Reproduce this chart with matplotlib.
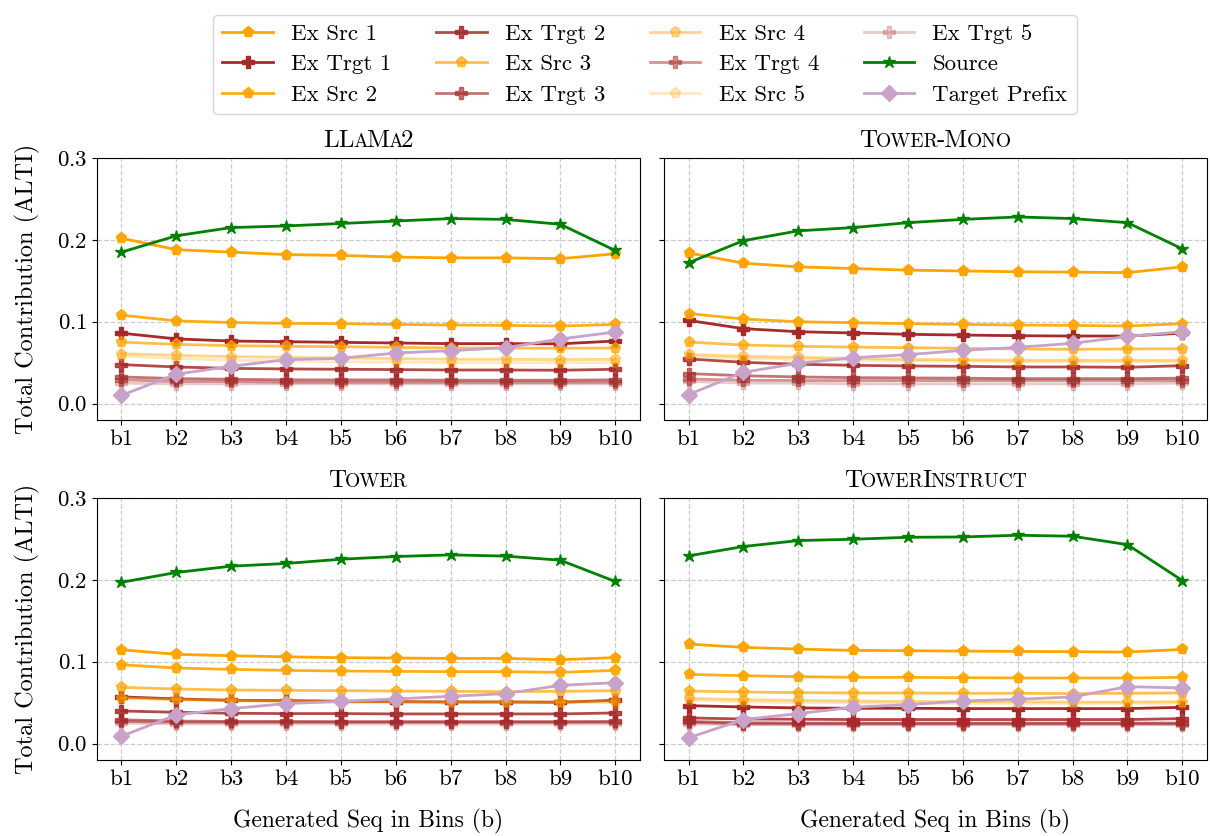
import numpy as np
import matplotlib
matplotlib.use('Agg')
import matplotlib.pyplot as plt
from matplotlib.offsetbox import TextArea, HPacker, AnchoredOffsetbox

plt.rcParams['font.family'] = 'serif'
plt.rcParams['font.serif'] = ['cmr10', 'DejaVu Serif']
plt.rcParams['mathtext.fontset'] = 'cm'
plt.rcParams['axes.formatter.use_mathtext'] = True
plt.rcParams['axes.unicode_minus'] = False

FS = 16.5

bins = ['b1', 'b2', 'b3', 'b4', 'b5', 'b6', 'b7', 'b8', 'b9', 'b10']

# --- LLaMa2 ---
llama_source = [0.185, 0.205, 0.215, 0.217, 0.220, 0.223, 0.226, 0.225, 0.219, 0.187]
llama_src1 = [0.202, 0.188, 0.185, 0.182, 0.181, 0.179, 0.178, 0.178, 0.177, 0.183]
llama_src2 = [0.108, 0.101, 0.099, 0.098, 0.0976, 0.0967, 0.096, 0.0955, 0.0947, 0.0967]
llama_src3 = [0.075, 0.0724, 0.0707, 0.0699, 0.0695, 0.0687, 0.0679, 0.0679, 0.0675, 0.0679]
llama_src4 = [0.061, 0.059, 0.0573, 0.0565, 0.0557, 0.055, 0.054, 0.054, 0.0537, 0.054]
llama_src5 = [0.058, 0.055, 0.053, 0.052, 0.051, 0.051, 0.050, 0.050, 0.050, 0.050]
llama_trg1 = [0.086, 0.079, 0.0764, 0.0756, 0.0748, 0.074, 0.0732, 0.0732, 0.073, 0.0764]
llama_trg2 = [0.0476, 0.0447, 0.043, 0.0423, 0.0419, 0.0415, 0.041, 0.041, 0.0407, 0.0419]
llama_trg3 = [0.0325, 0.0305, 0.0297, 0.029, 0.0289, 0.0289, 0.0285, 0.0285, 0.0285, 0.029]
llama_trg4 = [0.029, 0.027, 0.027, 0.026, 0.026, 0.026, 0.026, 0.026, 0.026, 0.026]
llama_trg5 = [0.025, 0.024, 0.024, 0.024, 0.024, 0.024, 0.024, 0.024, 0.024, 0.024]
llama_prefix = [0.010, 0.036, 0.0455, 0.0537, 0.0553, 0.0618, 0.0646, 0.0683, 0.0789, 0.0874]

# --- Tower-Mono ---
mono_source = [0.172, 0.199, 0.211, 0.215, 0.221, 0.225, 0.228, 0.226, 0.221, 0.189]
mono_src1 = [0.184, 0.1715, 0.167, 0.165, 0.163, 0.162, 0.161, 0.1606, 0.160, 0.167]
mono_src2 = [0.110, 0.1033, 0.100, 0.0988, 0.0976, 0.0967, 0.096, 0.0955, 0.0947, 0.0976]
mono_src3 = [0.0752, 0.0715, 0.070, 0.069, 0.0683, 0.0675, 0.0667, 0.0663, 0.0667, 0.067]
mono_src4 = [0.060, 0.0577, 0.0565, 0.0553, 0.054, 0.0535, 0.053, 0.053, 0.053, 0.053]
mono_src5 = [0.058, 0.055, 0.054, 0.053, 0.052, 0.052, 0.051, 0.051, 0.051, 0.051]
mono_trg1 = [0.1016, 0.0915, 0.0878, 0.0862, 0.0846, 0.0837, 0.0829, 0.0825, 0.0825, 0.086]
mono_trg2 = [0.0545, 0.0504, 0.048, 0.0467, 0.0459, 0.0455, 0.0447, 0.0447, 0.0443, 0.0463]
mono_trg3 = [0.0366, 0.034, 0.0325, 0.0317, 0.0313, 0.031, 0.0305, 0.0305, 0.0305, 0.031]
mono_trg4 = [0.030, 0.0285, 0.0282, 0.028, 0.028, 0.028, 0.028, 0.028, 0.028, 0.028]
mono_trg5 = [0.027, 0.025, 0.025, 0.024, 0.024, 0.024, 0.024, 0.024, 0.024, 0.025]
mono_prefix = [0.011, 0.0382, 0.0492, 0.056, 0.0598, 0.065, 0.0687, 0.0736, 0.082, 0.0878]

# --- Tower ---
tower_source = [0.197, 0.209, 0.2167, 0.220, 0.2252, 0.2285, 0.2305, 0.229, 0.224, 0.198]
tower_src1 = [0.1146, 0.109, 0.1073, 0.106, 0.1049, 0.1045, 0.104, 0.104, 0.1024, 0.105]
tower_src2 = [0.0963, 0.0923, 0.0906, 0.0894, 0.0886, 0.0882, 0.0878, 0.0878, 0.087, 0.0894]
tower_src3 = [0.0687, 0.0667, 0.0654, 0.065, 0.0646, 0.0642, 0.0638, 0.0634, 0.0638, 0.0646]
tower_src4 = [0.056, 0.054, 0.053, 0.052, 0.052, 0.051, 0.051, 0.051, 0.051, 0.052]
tower_src5 = [0.055, 0.053, 0.052, 0.051, 0.050, 0.050, 0.050, 0.050, 0.050, 0.050]
tower_trg1 = [0.057, 0.0545, 0.0528, 0.0524, 0.0516, 0.0512, 0.0508, 0.0508, 0.0504, 0.0528]
tower_trg2 = [0.0398, 0.0382, 0.037, 0.0366, 0.0366, 0.0362, 0.0362, 0.0362, 0.0362, 0.0374]
tower_trg3 = [0.029, 0.0275, 0.027, 0.027, 0.0268, 0.0268, 0.0268, 0.0268, 0.0268, 0.027]
tower_trg4 = [0.027, 0.026, 0.026, 0.026, 0.026, 0.026, 0.026, 0.026, 0.026, 0.026]
tower_trg5 = [0.025, 0.024, 0.024, 0.024, 0.024, 0.024, 0.024, 0.024, 0.024, 0.024]
tower_prefix = [0.009, 0.035, 0.0427, 0.0488, 0.0516, 0.0545, 0.0577, 0.061, 0.0711, 0.0744]

# --- TowerInstruct ---
instr_source = [0.2293, 0.2407, 0.248, 0.2496, 0.252, 0.2524, 0.2545, 0.2533, 0.243, 0.1992]
instr_src1 = [0.1215, 0.1175, 0.1154, 0.1138, 0.1134, 0.113, 0.1126, 0.1122, 0.1118, 0.115]
instr_src2 = [0.0845, 0.0829, 0.0817, 0.0809, 0.0809, 0.0805, 0.0801, 0.0801, 0.0801, 0.0809]
instr_src3 = [0.0642, 0.063, 0.0622, 0.0618, 0.0618, 0.0614, 0.0614, 0.061, 0.0614, 0.0618]
instr_src4 = [0.0553, 0.0537, 0.0528, 0.052, 0.0516, 0.0512, 0.0512, 0.0508, 0.0508, 0.0512]
instr_src5 = [0.053, 0.051, 0.050, 0.050, 0.049, 0.049, 0.049, 0.049, 0.049, 0.049]
instr_trg1 = [0.0463, 0.0447, 0.0435, 0.0431, 0.0431, 0.0427, 0.0427, 0.0427, 0.0427, 0.0443]
instr_trg2 = [0.0313, 0.030, 0.0297, 0.0293, 0.0293, 0.0293, 0.0293, 0.0293, 0.0293, 0.0305]
instr_trg3 = [0.027, 0.0255, 0.025, 0.025, 0.025, 0.025, 0.025, 0.025, 0.025, 0.025]
instr_trg4 = [0.026, 0.024, 0.024, 0.024, 0.024, 0.024, 0.024, 0.024, 0.024, 0.024]
instr_trg5 = [0.024, 0.023, 0.023, 0.023, 0.023, 0.023, 0.023, 0.023, 0.023, 0.023]
instr_prefix = [0.007, 0.0293, 0.0366, 0.0443, 0.0476, 0.052, 0.054, 0.057, 0.0695, 0.0679]

panels = [
    # title pieces: (text, is_small) to fake small caps
    ([('LL', False), ('A', True), ('M', False), ('A', True), ('2', False)],
     [llama_src1, llama_src2, llama_src3, llama_src4, llama_src5],
     [llama_trg1, llama_trg2, llama_trg3, llama_trg4, llama_trg5],
     llama_source, llama_prefix),
    ([('T', False), ('OWER', True), ('-M', False), ('ONO', True)],
     [mono_src1, mono_src2, mono_src3, mono_src4, mono_src5],
     [mono_trg1, mono_trg2, mono_trg3, mono_trg4, mono_trg5],
     mono_source, mono_prefix),
    ([('T', False), ('OWER', True)],
     [tower_src1, tower_src2, tower_src3, tower_src4, tower_src5],
     [tower_trg1, tower_trg2, tower_trg3, tower_trg4, tower_trg5],
     tower_source, tower_prefix),
    ([('T', False), ('OWER', True), ('I', False), ('NSTRUCT', True)],
     [instr_src1, instr_src2, instr_src3, instr_src4, instr_src5],
     [instr_trg1, instr_trg2, instr_trg3, instr_trg4, instr_trg5],
     instr_source, instr_prefix),
]

src_color = '#FFA500'
trg_color = '#A52A2A'
src_alpha = [1.0, 0.9, 0.7, 0.45, 0.25]
trg_alpha = [1.0, 0.85, 0.65, 0.5, 0.25]

fig, axes = plt.subplots(2, 2, figsize=(12.1, 8.36), dpi=100, sharey=True)
fig.subplots_adjust(left=0.080, right=0.9975, top=0.811, bottom=0.091,
                    wspace=0.044, hspace=0.298)

x = np.arange(len(bins))
for ax, (title, srcs, trgs, source, prefix) in zip(axes.flat, panels):
    for i in range(5):
        ax.plot(x, srcs[i], color=src_color, alpha=src_alpha[i], marker='p',
                markersize=8, linewidth=2, label=f'Ex Src {i + 1}')
        ax.plot(x, trgs[i], color=trg_color, alpha=trg_alpha[i], marker='P',
                markersize=8, linewidth=2, label=f'Ex Trgt {i + 1}')
    ax.plot(x, source, color='green', marker='*', markersize=9, linewidth=2,
            label='Source')
    ax.plot(x, prefix, color='#C8A2C8', marker='D', markersize=8, linewidth=2,
            label='Target Prefix')

    ax.set_xticks(x)
    ax.set_xticklabels(bins)
    ax.set_yticks([0.0, 0.1, 0.2, 0.3])
    ax.set_ylim(-0.02, 0.3)
    ax.tick_params(labelsize=FS)
    ax.tick_params(axis='y', labelleft=ax in axes[:, 0])
    ax.grid(True, linestyle='--', color='#cccccc', linewidth=0.9)

    # small-caps title built from pieces
    parts = [TextArea(t, textprops=dict(fontsize=18 * (0.78 if small else 1.0)))
             for t, small in title]
    box = HPacker(children=parts, align='baseline', pad=0, sep=-1)
    anch = AnchoredOffsetbox(loc='lower center', child=box, frameon=False,
                             bbox_to_anchor=(0.5, 1.0), bbox_transform=ax.transAxes,
                             pad=0, borderpad=0.4)
    ax.add_artist(anch)

for ax in axes[:, 0]:
    ax.set_ylabel('Total Contribution (ALTI)', fontsize=17.5, labelpad=12)
for ax in axes[1, :]:
    ax.set_xlabel('Generated Seq in Bins (b)', fontsize=17, labelpad=14)

handles, labels = axes[0, 0].get_legend_handles_labels()
fig.legend(handles, labels, loc='upper center', bbox_to_anchor=(0.533, 0.996),
           ncol=4, fontsize=FS, handlelength=2.2, columnspacing=1.95,
           labelspacing=0.45, borderpad=0.4)

plt.savefig('out.png', dpi=100)
plt.close()
